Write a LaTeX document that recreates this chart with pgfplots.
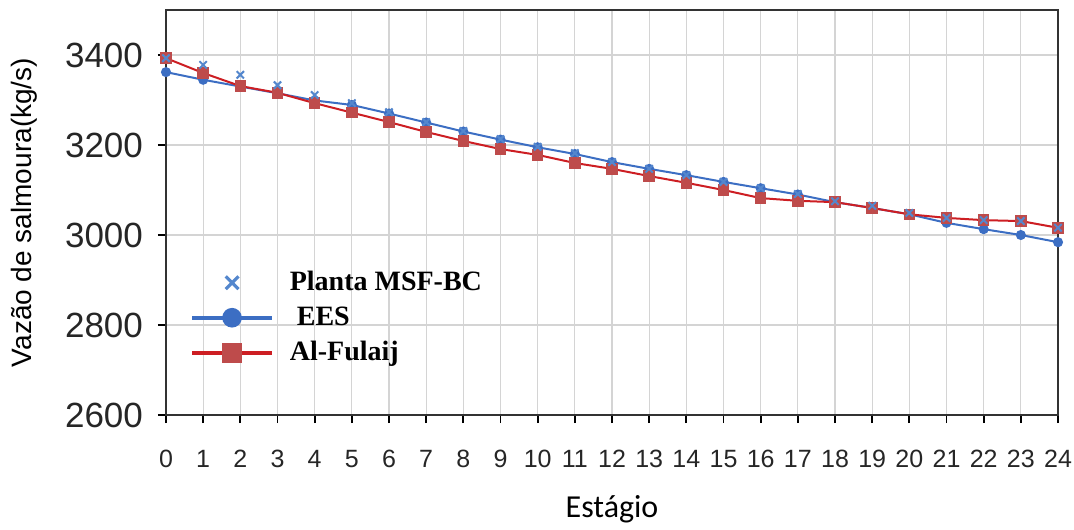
\documentclass[border=0pt]{standalone}
\usepackage{fontspec}
\setmainfont{Liberation Sans}
\newfontfamily\legfont{Liberation Serif}
\newfontfamily\calfont{Carlito}
\usepackage{pgfplots}
\pgfplotsset{compat=1.18}

\definecolor{msfblue}{RGB}{84,135,205}
\definecolor{eesblue}{RGB}{60,110,195}
\definecolor{fulred}{RGB}{205,30,35}
\definecolor{fulmark}{RGB}{190,75,75}

\begin{document}
\begin{tikzpicture}
\useasboundingbox (-83pt,-57pt) rectangle (454pt,207.5pt);
\begin{axis}[
    scale only axis, width=446pt, height=202.5pt,
    xmin=0, xmax=24, ymin=2600, ymax=3500,
    xtick={0,1,...,24}, ytick={2600,2800,3000,3200,3400},
    xtick pos=left, ytick pos=left,
    tick align=outside, major tick length=4pt,
    tick style={black, line width=0.9pt},
    grid=major, grid style={black!17, line width=0.6pt},
    axis line style={black!80, line width=1.4pt},
    /pgf/number format/assume math mode=true,
    /pgf/number format/1000 sep={},
    yticklabel style={font=\fontsize{17.5}{19}\selectfont, text=black!85},
    yticklabel shift=4pt,
    xticklabel style={font=\fontsize{12.5}{14}\selectfont, text=black!85},
    xticklabel shift=10pt,
    ylabel={Vazão de salmoura(kg/s)},
    ylabel style={font=\fontsize{14}{16}\selectfont, at={(axis description cs:0,0.5)}, anchor=center, yshift=71pt},
    xlabel={Estágio},
    xlabel style={font=\calfont\fontsize{16}{18}\selectfont, at={(axis description cs:0.5,0)}, anchor=center, yshift=-47pt},
    legend style={at={(rel axis cs:0.02,0.375)}, anchor=north west, draw=none, fill=none,
        font=\legfont\bfseries\fontsize{14}{16}\selectfont, row sep=2.5pt},
    legend cell align=left,
    legend image code/.code={\draw[mark repeat=2, mark phase=2] plot coordinates {(0pt,0pt) (20pt,0pt) (40pt,0pt)};
        \path (46pt,0pt);},
]
\addlegendimage{only marks, mark=x, mark size=4.5pt, msfblue, line width=1.6pt}
\addlegendimage{eesblue, line width=1.8pt, mark=*, mark size=4pt}
\addlegendimage{fulred, line width=1.8pt, mark=square*, mark size=4pt, mark options={fill=fulmark, draw=fulmark}}
\legend{Planta MSF-BC,\ EES,Al-Fulaij}

% EES
\addplot[eesblue, line width=1pt, mark=*, mark size=2pt, forget plot] coordinates {
(0,3362) (1,3345) (2,3330) (3,3315) (4,3299) (5,3289) (6,3270) (7,3250) (8,3230)
(9,3212) (10,3195) (11,3180) (12,3162) (13,3147) (14,3133) (15,3118) (16,3104)
(17,3090) (18,3073) (19,3060) (20,3046) (21,3027) (22,3013) (23,3000) (24,2984)};
% Al-Fulaij
\addplot[fulred, line width=1pt, mark=square*, mark size=2.4pt, mark options={fill=fulmark, draw=fulmark}, forget plot] coordinates {
(0,3393) (1,3360) (2,3331) (3,3316) (4,3293) (5,3272) (6,3251) (7,3229) (8,3209)
(9,3191) (10,3178) (11,3160) (12,3147) (13,3131) (14,3116) (15,3100) (16,3082)
(17,3076) (18,3073) (19,3060) (20,3046) (21,3038) (22,3033) (23,3031) (24,3016)};
% Planta MSF-BC
\addplot[only marks, msfblue, mark=x, mark size=2.6pt, line width=1pt, forget plot] coordinates {
(0,3393) (1,3378) (2,3356) (3,3333) (4,3311) (5,3293) (6,3273) (7,3251) (8,3231)
(9,3213) (10,3196) (11,3182) (12,3162) (13,3147) (14,3133) (15,3118) (16,3104)
(17,3091) (18,3075) (19,3065) (20,3049) (21,3038) (22,3033) (23,3031) (24,3016)};
\end{axis}
\end{tikzpicture}
\end{document}
